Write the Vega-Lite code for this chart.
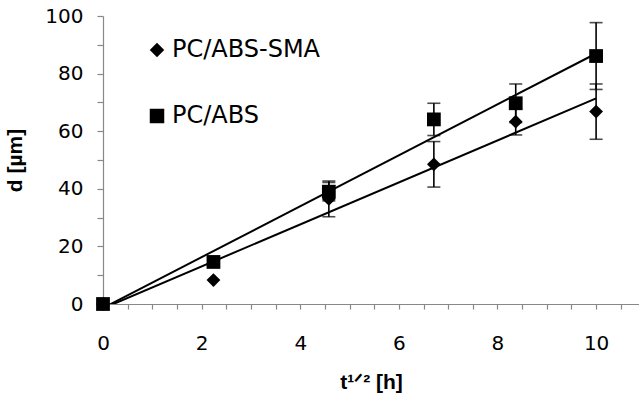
{
  "$schema": "https://vega.github.io/schema/vega-lite/v6.json",
  "autosize": "none",
  "padding": {"left": 103, "top": 16, "right": 0, "bottom": 100},
  "width": 536,
  "height": 288,
  "background": "white",
  "config": {
    "view": {"stroke": null},
    "font": "Liberation Sans",
    "axis": {
      "domainColor": "#888888",
      "tickColor": "#888888",
      "domainWidth": 1.2,
      "tickWidth": 1.2,
      "grid": false,
      "labelFont": "DejaVu Sans",
      "labelFontSize": 20,
      "labelColor": "black",
      "titleFont": "Liberation Sans",
      "titleFontSize": 21,
      "titleFontWeight": "bold",
      "titleColor": "black"
    }
  },
  "data": {
    "values": [
      {"series": "PC/ABS-SMA", "x": 0, "y": 0, "err": null},
      {"series": "PC/ABS-SMA", "x": 2.24, "y": 8.3, "err": null},
      {"series": "PC/ABS-SMA", "x": 4.58, "y": 36.5, "err": 6.2},
      {"series": "PC/ABS-SMA", "x": 6.71, "y": 48.5, "err": 7.9},
      {"series": "PC/ABS-SMA", "x": 8.37, "y": 63.3, "err": 4.6},
      {"series": "PC/ABS-SMA", "x": 10, "y": 66.8, "err": 9.6},
      {"series": "PC/ABS", "x": 0, "y": 0, "err": null},
      {"series": "PC/ABS", "x": 2.24, "y": 14.6, "err": null},
      {"series": "PC/ABS", "x": 4.58, "y": 39, "err": 3.2},
      {"series": "PC/ABS", "x": 6.71, "y": 64.1, "err": 5.6},
      {"series": "PC/ABS", "x": 8.37, "y": 69.7, "err": 6.7},
      {"series": "PC/ABS", "x": 10, "y": 86.1, "err": 11.6}
    ]
  },
  "encoding": {
    "x": {
      "field": "x",
      "type": "quantitative",
      "scale": {"domain": [0, 10.87], "nice": false, "zero": false},
      "axis": {
        "title": "t¹ᐟ² [h]",
        "values": [0, 0.5, 1, 1.5, 2, 2.5, 3, 3.5, 4, 4.5, 5, 5.5, 6, 6.5, 7, 7.5, 8, 8.5, 9, 9.5, 10, 10.5],
        "format": ".1~f",
        "labelExpr": "datum.value % 2 === 0 ? datum.label : ''",
        "tickSize": 5,
        "labelPadding": 24,
        "labelFlush": false,
        "labelOverlap": false,
        "titleX": 268,
        "titleY": 84,
        "titleBaseline": "alphabetic",
        "titleAlign": "center"
      }
    },
    "y": {
      "field": "y",
      "type": "quantitative",
      "scale": {"domain": [0, 100], "nice": false},
      "axis": {
        "title": "d [µm]",
        "values": [0, 10, 20, 30, 40, 50, 60, 70, 80, 90, 100],
        "format": "d",
        "labelExpr": "datum.value % 20 === 0 ? datum.label : ''",
        "tickSize": 6,
        "labelPadding": 14,
        "labelOverlap": false,
        "labelFlush": false,
        "titleAngle": -90,
        "titleX": -82,
        "titleY": 144,
        "titleBaseline": "alphabetic",
        "titleAlign": "center"
      }
    }
  },
  "layer": [
    {
      "transform": [
        {"regression": "y", "on": "x", "groupby": ["series"], "extent": [0, 10]}
      ],
      "mark": {"type": "line", "color": "black", "strokeWidth": 2, "clip": true},
      "encoding": {
        "detail": {"field": "series", "type": "nominal"}
      }
    },
    {
      "transform": [{"filter": "datum.err != null"}],
      "mark": {
        "type": "errorbar",
        "color": "black",
        "ticks": {"size": 13, "thickness": 1.6, "color": "black"},
        "rule": {"strokeWidth": 1.6, "color": "black"}
      },
      "encoding": {
        "yError": {"field": "err"},
        "detail": {"field": "series", "type": "nominal"}
      }
    },
    {
      "mark": {"type": "point", "filled": true, "color": "black", "opacity": 1, "size": 190},
      "encoding": {
        "shape": {
          "field": "series",
          "type": "nominal",
          "scale": {"domain": ["PC/ABS-SMA", "PC/ABS"], "range": ["diamond", "square"]},
          "legend": {
            "title": null,
            "orient": "none",
            "legendX": 42,
            "legendY": 22,
            "padding": 0,
            "labelFont": "DejaVu Sans",
            "labelFontSize": 24,
            "labelColor": "black",
            "labelOffset": 3,
            "rowPadding": 42,
            "symbolSize": 210,
            "symbolFillColor": "black",
            "symbolStrokeWidth": 0,
            "symbolOpacity": 1
          }
        }
      }
    }
  ]
}
